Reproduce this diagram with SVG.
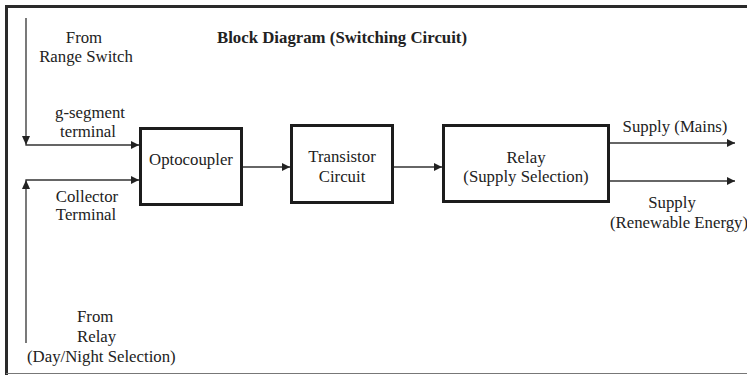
<svg xmlns="http://www.w3.org/2000/svg" width="747" height="375" viewBox="0 0 747 375">
  <style>
    text { font-family: "Liberation Serif", "Times New Roman", serif; font-size: 16.8px; fill: #222; }
    .title { font-weight: bold; }
    .mid { text-anchor: middle; }
    .box { fill: #fff; stroke: #1c1c1c; stroke-width: 3; }
    .wire { fill: none; stroke: #333; stroke-width: 1.3; }
    .head { fill: #222; }
  </style>
  <defs>
    <marker id="arrow" viewBox="0 0 10 10" refX="10" refY="5" markerWidth="9" markerHeight="8" markerUnits="userSpaceOnUse" orient="auto">
      <path d="M0,0 L10,5 L0,10 Z" fill="#222"/>
    </marker>
  </defs>

  <rect width="747" height="375" fill="#fff"/>

  <!-- frame -->
  <path d="M6.5,376 V6.5 H748" fill="none" stroke="#2a2a2a" stroke-width="3"/>
  <line x1="6" y1="373.5" x2="747" y2="373.5" stroke="#777" stroke-width="1.2"/>

  <text class="title" x="217" y="43">Block Diagram (Switching Circuit)</text>

  <!-- connectors -->
  <g id="connectors">
    <polyline class="wire" points="26,18 26,145 139,145" marker-end="url(#arrow)"/>
    <polyline class="wire" points="26,343 26,180 139,180" marker-end="url(#arrow)"/>
    <line class="wire" x1="242" y1="167" x2="290" y2="167" marker-end="url(#arrow)"/>
    <line class="wire" x1="393" y1="167" x2="442" y2="167" marker-end="url(#arrow)"/>
    <line class="wire" x1="609" y1="143" x2="735" y2="143" marker-end="url(#arrow)"/>
    <line class="wire" x1="609" y1="181" x2="735" y2="181" marker-end="url(#arrow)"/>
    <!-- down arrowhead at the g-segment corner, up arrowhead at the collector corner -->
    <path class="head" d="M22,136 L30,136 L26,145 Z"/>
    <path class="head" d="M22,189 L30,189 L26,180 Z"/>
  </g>

  <!-- input labels -->
  <g id="in-range-switch">
    <text class="mid" x="84" y="43">From</text>
    <text class="mid" x="86" y="62">Range Switch</text>
  </g>
  <g id="in-g-segment">
    <text class="mid" x="90" y="118">g-segment</text>
    <text class="mid" x="88" y="137">terminal</text>
  </g>
  <g id="in-collector">
    <text class="mid" x="87" y="202">Collector</text>
    <text class="mid" x="86" y="220">Terminal</text>
  </g>
  <g id="in-day-night-relay">
    <text x="77" y="322">From</text>
    <text x="77" y="342">Relay</text>
    <text x="27" y="362">(Day/Night Selection)</text>
  </g>

  <!-- blocks -->
  <g id="optocoupler">
    <rect class="box" x="140.5" y="128.5" width="101" height="76"/>
    <text class="mid" x="191" y="165">Optocoupler</text>
  </g>
  <g id="transistor-circuit">
    <rect class="box" x="291.5" y="125.5" width="101" height="77"/>
    <text class="mid" x="342" y="162">Transistor</text>
    <text class="mid" x="342" y="182">Circuit</text>
  </g>
  <g id="relay">
    <rect class="box" x="443.5" y="125.5" width="165" height="76"/>
    <text class="mid" x="526" y="163">Relay</text>
    <text class="mid" x="526" y="182">(Supply Selection)</text>
  </g>

  <!-- output labels -->
  <g id="out-mains">
    <text class="mid" x="675" y="132">Supply (Mains)</text>
  </g>
  <g id="out-renewable">
    <text class="mid" x="672" y="208">Supply</text>
    <text x="610" y="228">(Renewable Energy)</text>
  </g>
</svg>
